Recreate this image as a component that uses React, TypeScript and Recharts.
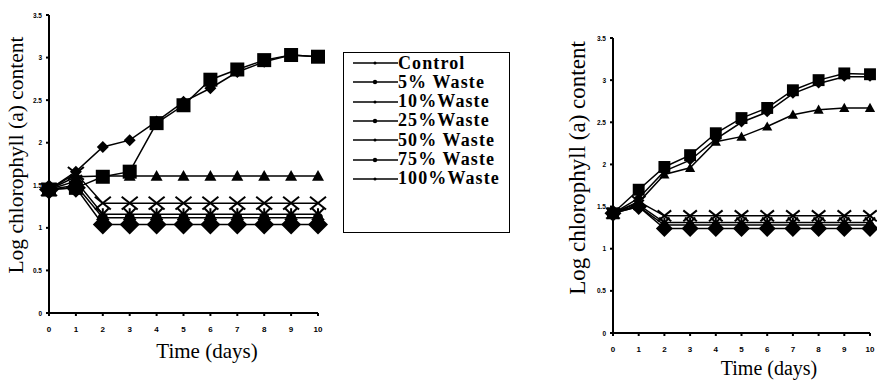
import { LineChart, Line, XAxis, YAxis } from 'recharts'

const DAYS = [0, 1, 2, 3, 4, 5, 6, 7, 8, 9, 10]
const Y_TICKS = [0, 0.5, 1, 1.5, 2, 2.5, 3, 3.5]
const SERIES = ['Control', '5% Waste', '10%Waste', '25%Waste', '50% Waste', '75% Waste', '100%Waste']
const KEYS = ['control', 'w5', 'w10', 'w25', 'w50', 'w75', 'w100']

// left panel
const leftControl = [1.45, 1.66, 1.95, 2.03, 2.25, 2.48, 2.64, 2.83, 2.95, 3.03, 3.01]
const left5 = [1.45, 1.47, 1.6, 1.66, 2.23, 2.44, 2.74, 2.86, 2.97, 3.03, 3.01]
const left10 = [1.45, 1.6, 1.61, 1.61, 1.61, 1.61, 1.61, 1.61, 1.61, 1.61, 1.61]
const left25 = [1.45, 1.64, 1.29, 1.29, 1.29, 1.29, 1.29, 1.29, 1.29, 1.29, 1.29]
const left50 = [1.45, 1.55, 1.16, 1.16, 1.16, 1.16, 1.16, 1.16, 1.16, 1.16, 1.16]
const left75 = [1.45, 1.5, 1.12, 1.12, 1.12, 1.12, 1.12, 1.12, 1.12, 1.12, 1.12]
const left100 = [1.45, 1.47, 1.04, 1.04, 1.04, 1.04, 1.04, 1.04, 1.04, 1.04, 1.04]

// right panel
const rightControl = [1.42, 1.6, 1.92, 2.05, 2.3, 2.5, 2.62, 2.84, 2.96, 3.04, 3.04]
const right5 = [1.42, 1.7, 1.97, 2.11, 2.37, 2.55, 2.67, 2.88, 3.0, 3.08, 3.07]
const right10 = [1.42, 1.55, 1.88, 1.96, 2.27, 2.33, 2.45, 2.59, 2.65, 2.67, 2.67]
const right25 = [1.42, 1.56, 1.39, 1.39, 1.39, 1.39, 1.39, 1.39, 1.39, 1.39, 1.39]
const right50 = [1.42, 1.52, 1.31, 1.31, 1.31, 1.31, 1.31, 1.31, 1.31, 1.31, 1.31]
const right75 = [1.42, 1.5, 1.28, 1.28, 1.28, 1.28, 1.28, 1.28, 1.28, 1.28, 1.28]
const right100 = [1.42, 1.5, 1.24, 1.24, 1.24, 1.24, 1.24, 1.24, 1.24, 1.24, 1.24]

const buildRows = (cols: number[][]) =>
  DAYS.map((d, i) => {
    const row: any = { day: d }
    KEYS.forEach((k, j) => (row[k] = cols[j][i]))
    return row
  })

const leftData = buildRows([leftControl, left5, left10, left25, left50, left75, left100])
const rightData = buildRows([rightControl, right5, right10, right25, right50, right75, right100])

const MARKERS = ['diamond', 'square', 'triangle', 'x', 'star', 'circle', 'bigdiamond']
const MARKER_SIZE = [6, 7, 6, 8, 6, 5, 10]

function Marker({ cx, cy, kind, s }: any) {
  if (cx == null || cy == null) return null
  switch (kind) {
    case 'diamond':
    case 'bigdiamond':
      return <polygon points={`${cx},${cy - s} ${cx + s},${cy} ${cx},${cy + s} ${cx - s},${cy}`} fill="#000" />
    case 'square':
      return <rect x={cx - s} y={cy - s} width={s * 2} height={s * 2} fill="#000" />
    case 'triangle':
      return <polygon points={`${cx},${cy - s} ${cx + s},${cy + s * 0.8} ${cx - s},${cy + s * 0.8}`} fill="#000" />
    case 'x':
      return (
        <g stroke="#000" strokeWidth={2}>
          <line x1={cx - s} y1={cy - s * 0.8} x2={cx + s} y2={cy + s * 0.8} />
          <line x1={cx - s} y1={cy + s * 0.8} x2={cx + s} y2={cy - s * 0.8} />
        </g>
      )
    case 'star':
      return (
        <g stroke="#000" strokeWidth={2}>
          <line x1={cx - s} y1={cy - s} x2={cx + s} y2={cy + s} />
          <line x1={cx - s} y1={cy + s} x2={cx + s} y2={cy - s} />
          <line x1={cx} y1={cy - s} x2={cx} y2={cy + s} />
        </g>
      )
    default:
      return <circle cx={cx} cy={cy} r={s} fill="#000" />
  }
}

const YTick = ({ x, y, payload }: any) => (
  <text x={x - 2} y={y} dy={2.5} textAnchor="end" fontSize={6.5} fontWeight={700} fontFamily="Liberation Sans" fill="#000">
    {payload.value}
  </text>
)

const XTick = ({ x, y, payload }: any) => (
  <text x={x} y={y} dy={14} textAnchor="middle" fontSize={8} fontWeight={700} fontFamily="Liberation Sans" fill="#000">
    {payload.value}
  </text>
)

function Panel({ data, width, height, margin, scale }: any) {
  return (
    <LineChart width={width} height={height} data={data} margin={margin}>
      <XAxis
        dataKey="day"
        type="number"
        domain={[0, 10]}
        ticks={DAYS}
        height={30}
        stroke="#000"
        strokeWidth={2}
        tickSize={3}
        tick={<XTick />}
        interval={0}
      />
      <YAxis
        type="number"
        domain={[0, 3.5]}
        ticks={Y_TICKS}
        width={30}
        stroke="#000"
        strokeWidth={2}
        tickSize={3}
        tick={<YTick />}
        interval={0}
      />
      {KEYS.map((k, j) => (
        <Line
          key={k}
          dataKey={k}
          stroke="#000"
          strokeWidth={1.5}
          isAnimationActive={false}
          dot={(p: any) => <Marker key={`${k}-${p.index}`} cx={p.cx} cy={p.cy} kind={MARKERS[j]} s={MARKER_SIZE[j] * scale} />}
          activeDot={false}
        />
      ))}
    </LineChart>
  )
}

const serif = '"Liberation Serif", "Times New Roman", serif'

const absText = (cx: number, cy: number, size: number, rotate = false): any => ({
  position: 'absolute',
  left: cx,
  top: cy,
  transform: `translate(-50%, -50%)${rotate ? ' rotate(-90deg)' : ''}`,
  whiteSpace: 'nowrap',
  fontFamily: serif,
  fontSize: size,
  color: '#000',
  lineHeight: 1,
})

export default function App() {
  return (
    <div style={{ position: 'absolute', left: 0, top: 0, width: 877, height: 381, background: '#fff', overflow: 'hidden' }}>
      <div style={{ position: 'absolute', left: 0, top: 0 }}>
        <Panel data={leftData} width={340} height={381} margin={{ top: 15, right: 22, bottom: 38, left: 19 }} scale={1} />
      </div>
      <div style={{ position: 'absolute', left: 560, top: 0 }}>
        <Panel data={rightData} width={317} height={381} margin={{ top: 38, right: 7, bottom: 18, left: 23 }} scale={0.85} />
      </div>

      <div style={absText(17, 155, 21.5, true)}>Log chlorophyll (a) content</div>
      <div style={absText(207, 351, 21)}>Time (days)</div>
      <div style={absText(577, 168, 23, true)}>Log chlorophyll (a) content</div>
      <div style={absText(769, 368, 20)}>Time (days)</div>

      <div
        style={{
          position: 'absolute',
          left: 343,
          top: 52,
          width: 167,
          height: 181,
          border: '1.5px solid #000',
          boxSizing: 'border-box',
        }}
      >
        {SERIES.map((name, j) => (
          <div
            key={name}
            style={{
              position: 'absolute',
              left: 0,
              top: 0 + j * 19.3,
              height: 19,
              display: 'flex',
              alignItems: 'center',
              whiteSpace: 'nowrap',
            }}
          >
            <svg width={45} height={19} style={{ marginLeft: 9 }}>
              <line x1={0} y1={10} x2={45} y2={10} stroke="#000" strokeWidth={1.5} />
              <circle cx={22} cy={10} r={j % 2 ? 2.2 : 1.5} fill="#000" />
            </svg>
            <span style={{ fontFamily: serif, fontWeight: 700, fontSize: 18, lineHeight: '18px', letterSpacing: 1.1 }}>
              {name}
            </span>
          </div>
        ))}
      </div>
    </div>
  )
}
